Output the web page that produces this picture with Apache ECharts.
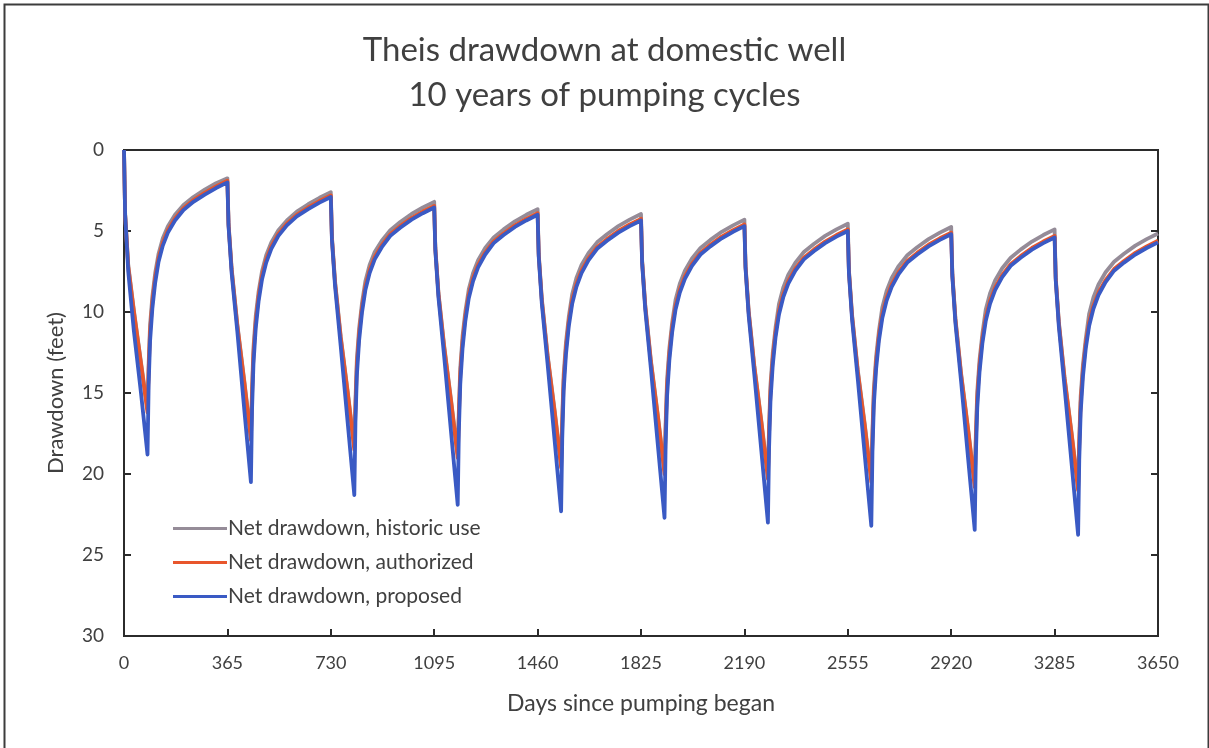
<!DOCTYPE html>
<html>
<head>
<meta charset="utf-8">
<script src="https://cdn.jsdelivr.net/npm/echarts@6/dist/echarts.min.js"></script>
<style>
html,body{margin:0;padding:0;background:#fff;}
#c{width:1209px;height:748px;}
</style>
</head>
<body>
<div id="c"></div>
<script>
// Days since pumping began (x values shared by all series)
var days = [0,4,15,35,60,83,87,92,100,110,122,137,155,180,210,245,285,325,
365,369,380,400,425,448,452,457,465,475,487,502,520,545,575,610,650,690,
730,734,745,765,790,813,817,822,830,840,852,867,885,910,940,975,1015,1055,
1095,1099,1110,1130,1155,1178,1182,1187,1195,1205,1217,1232,1250,1275,1305,1340,1380,1420,
1460,1464,1475,1495,1520,1543,1547,1552,1560,1570,1582,1597,1615,1640,1670,1705,1745,1785,
1825,1829,1840,1860,1885,1908,1912,1917,1925,1935,1947,1962,1980,2005,2035,2070,2110,2150,
2190,2194,2205,2225,2250,2273,2277,2282,2290,2300,2312,2327,2345,2370,2400,2435,2475,2515,
2555,2559,2570,2590,2615,2638,2642,2647,2655,2665,2677,2692,2710,2735,2765,2800,2840,2880,
2920,2924,2935,2955,2980,3003,3007,3012,3020,3030,3042,3057,3075,3100,3130,3165,3205,3245,
3285,3289,3300,3320,3345,3368,3372,3377,3385,3395,3407,3422,3440,3465,3495,3530,3570,3610,
3650];

// Net drawdown, historic use (feet)
var historic = [0,3.9,7.1,9.9,13.1,16.0,13.2,10.8,9.05,7.6,6.4,5.45,4.7,4.0,3.4,2.9,2.45,2.05,
1.75,4.5,7.3,10.75,14.3,17.7,14.7,12.2,10.25,8.75,7.5,6.5,5.7,4.95,4.35,3.8,3.35,2.95,
2.6,5.35,8.1,11.5,14.95,18.3,15.5,12.9,11.0,9.45,8.1,7.1,6.3,5.6,4.95,4.45,3.95,3.55,
3.2,6.0,8.8,12.05,15.5,18.8,16.1,13.45,11.5,9.95,8.6,7.6,6.8,6.05,5.4,4.9,4.4,4.0,
3.65,6.4,9.2,12.6,16.05,19.4,16.5,13.85,11.9,10.3,8.9,7.9,7.1,6.35,5.7,5.2,4.7,4.3,
3.95,6.8,9.55,13.0,16.45,19.8,16.85,14.2,12.25,10.65,9.25,8.25,7.45,6.7,6.05,5.55,5.05,4.65,
4.3,7.1,9.9,13.3,16.75,20.1,17.15,14.5,12.55,10.95,9.5,8.5,7.7,6.95,6.3,5.8,5.3,4.9,
4.55,7.4,10.15,13.55,16.95,20.3,17.35,14.7,12.75,11.15,9.7,8.7,7.9,7.15,6.5,6.0,5.5,5.1,
4.75,7.6,10.4,13.8,17.25,20.6,17.55,14.9,12.95,11.35,9.85,8.85,8.05,7.3,6.65,6.15,5.65,5.25,
4.9,7.85,10.6,14.0,17.45,20.8,17.85,15.2,13.25,11.65,10.1,9.1,8.3,7.55,6.9,6.4,5.9,5.5,
5.15];

// Net drawdown, authorized (feet)
var authorized = [0,4.0,7.2,10.0,13.2,16.2,13.6,11.2,9.4,7.9,6.68,5.72,4.95,4.23,3.6,3.1,2.65,2.25,
1.9,4.6,7.4,10.85,14.4,17.9,15.1,12.6,10.6,9.05,7.78,6.77,5.95,5.18,4.55,4.0,3.55,3.15,
2.8,5.45,8.2,11.6,15.05,18.5,15.9,13.3,11.35,9.75,8.43,7.42,6.6,5.88,5.2,4.7,4.2,3.8,
3.45,6.1,8.9,12.15,15.6,19.0,16.5,13.85,11.85,10.25,8.93,7.92,7.1,6.33,5.65,5.15,4.65,4.25,
3.9,6.5,9.3,12.7,16.15,19.6,16.9,14.25,12.25,10.6,9.28,8.27,7.45,6.68,6.0,5.5,5.0,4.6,
4.25,6.9,9.65,13.1,16.55,20.0,17.25,14.6,12.6,10.95,9.63,8.62,7.8,7.03,6.35,5.85,5.35,4.95,
4.6,7.2,10.0,13.4,16.85,20.3,17.55,14.9,12.9,11.25,9.93,8.92,8.1,7.33,6.65,6.15,5.65,5.25,
4.9,7.5,10.25,13.65,17.05,20.5,17.75,15.1,13.1,11.45,10.13,9.12,8.3,7.53,6.85,6.35,5.85,5.45,
5.1,7.7,10.5,13.9,17.35,20.8,17.95,15.3,13.3,11.65,10.33,9.32,8.5,7.73,7.05,6.55,6.05,5.65,
5.3,7.95,10.7,14.1,17.55,21.0,18.25,15.6,13.6,11.95,10.63,9.62,8.8,8.03,7.35,6.85,6.35,5.95,
5.6];

// Net drawdown, proposed (feet)
var proposed = [0,4.0,7.5,11.2,15.0,18.8,14.5,11.8,9.8,8.2,6.9,5.9,5.1,4.35,3.7,3.2,2.75,2.35,
2.0,4.7,7.6,11.2,16.1,20.5,16.0,13.2,11.0,9.35,8.0,6.95,6.1,5.3,4.65,4.1,3.65,3.25,
2.9,5.55,8.4,12.1,16.9,21.3,16.8,13.9,11.75,10.05,8.65,7.6,6.75,6.0,5.3,4.8,4.3,3.9,
3.55,6.2,9.1,12.7,17.5,21.9,17.4,14.45,12.25,10.55,9.15,8.1,7.25,6.45,5.75,5.25,4.75,4.35,
4.0,6.6,9.5,13.15,17.9,22.3,17.8,14.85,12.65,10.9,9.5,8.45,7.6,6.8,6.1,5.6,5.1,4.7,
4.35,7.0,9.85,13.5,18.3,22.7,18.15,15.2,13.0,11.25,9.85,8.8,7.95,7.15,6.45,5.95,5.45,5.05,
4.7,7.3,10.2,13.85,18.6,23.0,18.45,15.5,13.3,11.55,10.15,9.1,8.25,7.45,6.75,6.25,5.75,5.35,
5.0,7.6,10.45,14.1,18.85,23.2,18.65,15.7,13.5,11.75,10.35,9.3,8.45,7.65,6.95,6.45,5.95,5.55,
5.2,7.8,10.7,14.3,19.1,23.45,18.85,15.9,13.7,11.95,10.55,9.5,8.65,7.85,7.15,6.65,6.15,5.75,
5.4,8.05,10.9,14.6,19.35,23.75,19.15,16.2,14.0,12.25,10.85,9.8,8.95,8.15,7.45,6.95,6.45,6.05,
5.7];

var seriesNames = ['Net drawdown, historic use','Net drawdown, authorized','Net drawdown, proposed'];
var seriesColors = ['#958c98','#e8562c','#3a5ac4'];
var xTicks = [0,365,730,1095,1460,1825,2190,2555,2920,3285,3650];
var yTicks = [0,5,10,15,20,25,30];

function pairs(vals){ return days.map(function(d,i){ return [d, vals[i]]; }); }
var allVals = [historic, authorized, proposed];

var chart = echarts.init(document.getElementById('c'), null, {renderer:'canvas'});
var font = 'Lato, "Open Sans", sans-serif';
var txt = '#404040';
var axisCol = '#2b2b2b';

var option = {
  backgroundColor: '#ffffff',
  animation: false,
  title: {
    text: 'Theis drawdown at domestic well\n10 years of pumping cycles',
    left: 'center',
    top: 23,
    textStyle: {fontFamily: font, fontSize: 33, fontWeight: 'normal', color: txt, lineHeight: 45}
  },
  legend: {
    left: 168, top: 513, orient: 'vertical',
    icon: 'rect', itemWidth: 54, itemHeight: 3, itemGap: 13,
    textStyle: {fontFamily: font, fontSize: 21, color: txt, padding:[0,0,0,-4]},
    data: seriesNames
  },
  grid: {left: 124, right: 51, top: 150, bottom: 112, show: true, borderColor: axisCol, borderWidth: 2, backgroundColor: 'transparent'},
  xAxis: {
    type: 'value', min: 0, max: 3650, interval: 365, position: 'bottom',
    name: 'Days since pumping began', nameLocation: 'middle', nameGap: 56,
    nameTextStyle: {fontFamily: font, fontSize: 23, color: txt},
    axisLine: {show: true, onZero: false, lineStyle: {color: axisCol, width: 2}},
    axisTick: {show: true, inside: true, length: 7, lineStyle: {color: axisCol, width: 2}},
    axisLabel: {fontFamily: font, fontSize: 18, color: txt, margin: 18,
      formatter: function(v){ return xTicks.indexOf(v) >= 0 ? String(v) : ''; }},
    splitLine: {show: false}
  },
  yAxis: [{
    type: 'value', min: 0, max: 30, interval: 5, inverse: true, position: 'left',
    name: 'Drawdown (feet)', nameLocation: 'middle', nameGap: 57, nameRotate: 90,
    nameTextStyle: {fontFamily: font, fontSize: 22, color: txt},
    axisLine: {show: true, onZero: false, lineStyle: {color: axisCol, width: 2}},
    axisTick: {show: true, inside: true, length: 7, lineStyle: {color: axisCol, width: 2}},
    axisLabel: {fontFamily: font, fontSize: 19, color: txt, margin: 20,
      formatter: function(v){ return yTicks.indexOf(v) >= 0 ? String(v) : ''; }},
    splitLine: {show: false}
  },{
    type: 'value', min: 0, max: 30, interval: 5, inverse: true, position: 'right',
    axisLine: {show: true, onZero: false, lineStyle: {color: axisCol, width: 2}},
    axisTick: {show: true, inside: true, length: 7, lineStyle: {color: axisCol, width: 2}},
    axisLabel: {show: false},
    splitLine: {show: false}
  }],
  graphic: [{
    type: 'rect', left: 2, top: 2, shape: {width: 1204, height: 760},
    style: {fill: 'none', stroke: '#3c3c3c', lineWidth: 2}, silent: true, z: -1
  }],
  series: seriesNames.map(function(n, k){
    return {
      name: n, type: 'line', data: pairs(allVals[k]), showSymbol: false, symbol: 'none',
      lineStyle: {color: seriesColors[k], width: 3.8, join: 'round'}, itemStyle: {color: seriesColors[k]},
      z: 2 + k
    };
  })
};
chart.setOption(option);
</script>
</body>
</html>
